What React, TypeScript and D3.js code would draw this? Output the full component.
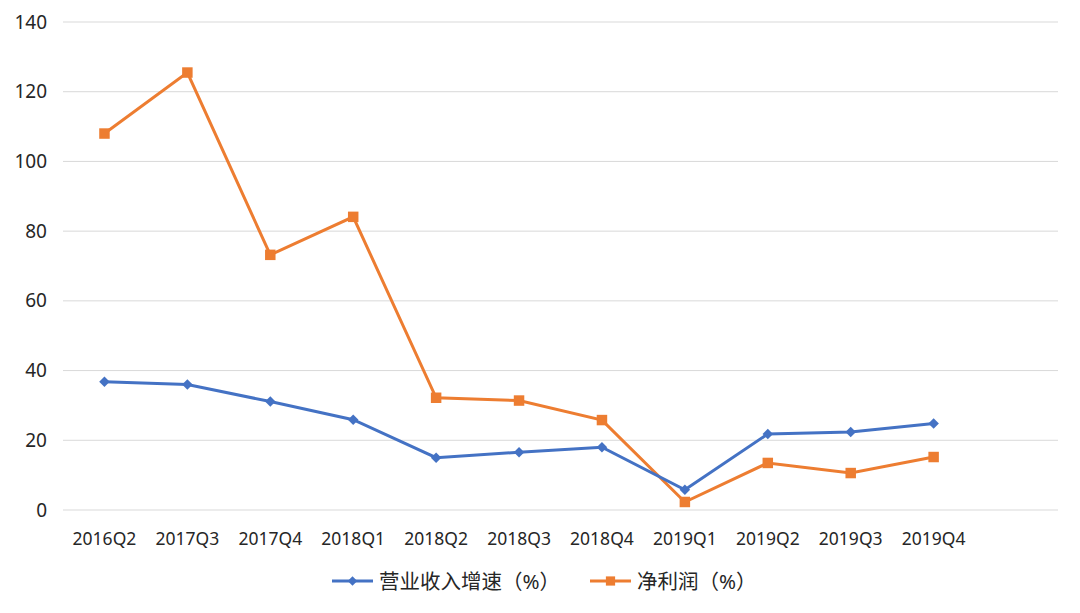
import React, { useEffect, useRef } from "react";
import * as d3 from "d3";

const categories = ["2016Q2", "2017Q3", "2017Q4", "2018Q1", "2018Q2", "2018Q3", "2018Q4", "2019Q1", "2019Q2", "2019Q3", "2019Q4"];
const revenueGrowth = [36.8, 36, 31.1, 25.9, 15, 16.6, 18, 5.8, 21.8, 22.4, 24.8];
const netProfit = [108, 125.5, 73.2, 84.1, 32.2, 31.4, 25.8, 2.3, 13.5, 10.6, 15.2];
const yTicks = [0, 20, 40, 60, 80, 100, 120, 140];
const seriesNames = ["营业收入增速（%）", "净利润（%）"];

const W = 1080, H = 613;
const FONT = "'Noto Sans', 'Noto Sans CJK SC', sans-serif";

export default function App() {
  const ref = useRef<SVGSVGElement>(null);

  useEffect(() => {
    const svg = d3.select(ref.current);
    svg.selectAll("*").remove();

    // 12 slots, the last one stays empty like the original
    const x = d3.scaleBand<string>().domain([...categories, "_"]).range([63, 1058]);
    const y = d3.scaleLinear().domain([0, 140]).range([510, 22]);
    const cx = (c: string) => (x(c) as number) + x.bandwidth() / 2;

    // grid
    svg.append("g").selectAll("line").data(yTicks).join("line")
      .attr("x1", 63).attr("x2", 1058)
      .attr("y1", d => y(d)).attr("y2", d => y(d))
      .attr("stroke", "#d9d9d9").attr("stroke-width", 1);

    svg.append("g").selectAll("text").data(yTicks).join("text")
      .attr("x", 47).attr("y", d => y(d) + 6.5)
      .attr("text-anchor", "end")
      .attr("font-size", 19).attr("font-family", FONT).attr("fill", "#262626")
      .text(d => d);

    svg.append("g").selectAll("text").data(categories).join("text")
      .attr("x", d => cx(d)).attr("y", 545)
      .attr("text-anchor", "middle")
      .attr("font-size", 17.5).attr("font-family", FONT).attr("fill", "#262626")
      .text(d => d);

    const line = d3.line<number>()
      .x((_, i) => cx(categories[i]))
      .y(d => y(d));

    const blue = "#4472c4", orange = "#ed7d31";
    // diamond = square rotated 45deg
    const diamondPath = d3.symbol().type(d3.symbolSquare).size(55)()!;
    const squarePath = d3.symbol().type(d3.symbolSquare).size(110)()!;

    svg.append("path").datum(netProfit).attr("d", line)
      .attr("fill", "none").attr("stroke", orange).attr("stroke-width", 3);
    svg.append("g").selectAll("path").data(netProfit).join("path")
      .attr("d", squarePath)
      .attr("transform", (d, i) => `translate(${cx(categories[i])},${y(d)})`)
      .attr("fill", orange);

    svg.append("path").datum(revenueGrowth).attr("d", line)
      .attr("fill", "none").attr("stroke", blue).attr("stroke-width", 3);
    svg.append("g").selectAll("path").data(revenueGrowth).join("path")
      .attr("d", diamondPath)
      .attr("transform", (d, i) => `translate(${cx(categories[i])},${y(d)}) rotate(45)`)
      .attr("fill", blue);

    // legend
    const legend = [
      { name: seriesNames[0], color: blue, d: d3.symbol().type(d3.symbolSquare).size(45)()!, rot: 45, x0: 332 },
      { name: seriesNames[1], color: orange, d: d3.symbol().type(d3.symbolSquare).size(85)()!, rot: 0, x0: 590 },
    ];
    const lg = svg.append("g").selectAll("g").data(legend).join("g")
      .attr("transform", d => `translate(${d.x0},581)`);
    lg.append("line").attr("x1", 0).attr("x2", 41)
      .attr("stroke", d => d.color).attr("stroke-width", 3);
    lg.append("path").attr("d", d => d.d)
      .attr("transform", d => `translate(20.5,0) rotate(${d.rot})`).attr("fill", d => d.color);
    lg.append("text").attr("x", 47).attr("y", 7.5)
      .attr("font-size", 20.5).attr("font-family", FONT).attr("fill", "#262626")
      .text(d => d.name);
  }, []);

  return (
    <svg ref={ref} width={W} height={H}
      style={{ position: "absolute", left: 0, top: 0, background: "#fff" }} />
  );
}
